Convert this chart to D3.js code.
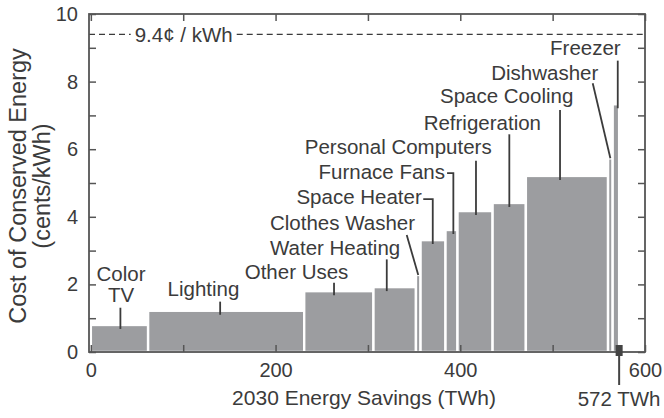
<!DOCTYPE html>
<html><head><meta charset="utf-8">
<script src="https://cdn.jsdelivr.net/npm/d3@7"></script>
<style>
html,body{margin:0;padding:0;background:#fff;}
svg{display:block;font-family:"Liberation Sans",Arial,Helvetica,sans-serif;}
</style></head>
<body>
<svg id="chart" width="664" height="418"></svg>
<script>
// ---------- data ----------
const categories = ["Color TV","Lighting","Other Uses","Water Heating","Clothes Washer","Space Heater",
  "Furnace Fans","Personal Computers","Refrigeration","Space Cooling","Dishwasher","Freezer"];
const savingsTWh = [62,169,75,46,5,27,13,38,36,89,5,7];          // bar widths
const costCents  = [0.80,1.22,1.80,1.92,2.28,3.31,3.61,4.17,4.41,5.21,5.73,7.33]; // bar heights
const xTickValues = [0,100,200,300,400,500,600];
const xTickLabels = ["0","","200","","400","","600"];
const yTickValues = [0,1,2,3,4,5,6,7,8,9,10];
const yTickLabels = ["0","","2","","4","","6","","8","","10"];
const thresholdCents = 9.4;
const thresholdLabel = "9.4¢ / kWh";
const totalTWh = 572;
const totalLabel = "572 TWh";
const xTitle = "2030 Energy Savings (TWh)";
const yTitle = ["Cost of Conserved Energy","(cents/kWh)"];
const labelLines = [["Color","TV"],["Lighting"],["Other Uses"],["Water Heating"],["Clothes Washer"],["Space Heater"],
  ["Furnace Fans"],["Personal Computers"],["Refrigeration"],["Space Cooling"],["Dishwasher"],["Freezer"]];

(function(){
const svg = d3.select("#chart");
const L = 89, R = 645, T = 14, B = 352;
const x = d3.scaleLinear().domain([-2, 600]).range([L, R]);
const y = d3.scaleLinear().domain([0, 10]).range([B, T]);
const ink = "#3b3b3b", axisCol = "#555", barCol = "#9c9da0";
const fs = 20.5, fsTick = 20, fsX = 21, fsY = 23.5;

let cum = 0;
const bars = categories.map((c,i)=>{ const b={name:c,x0:cum,x1:cum+savingsTWh[i],v:costCents[i]}; cum+=savingsTWh[i]; return b;});

svg.append("g").selectAll("rect").data(bars).join("rect")
  .attr("x", d=>x(d.x0)).attr("width", d=>x(d.x1)-x(d.x0))
  .attr("y", d=>y(d.v)).attr("height", d=>y(0)-y(d.v))
  .attr("fill", barCol).attr("stroke","#fff").attr("stroke-width",2.4);

const thrText = svg.append("text").attr("x", x(47.5)).attr("y", y(thresholdCents)+7.5)
  .attr("font-size",fs).attr("fill",ink).text(thresholdLabel);
const bb = thrText.node().getBBox();
[[L, bb.x-4],[bb.x+bb.width+4, R]].forEach(([a,b])=>{
  svg.append("line").attr("x1",a).attr("x2",b).attr("y1",y(thresholdCents)).attr("y2",y(thresholdCents))
    .attr("stroke",ink).attr("stroke-width",1.2).attr("stroke-dasharray","6,4");
});

const tickLen = 7;
const axB = d3.axisBottom(x).tickValues(xTickValues).tickSizeInner(-tickLen).tickSizeOuter(0).tickFormat((d,i)=>xTickLabels[i]).tickPadding(11);
const axT = d3.axisTop(x).tickValues(xTickValues).tickSizeInner(-tickLen).tickSizeOuter(0).tickFormat("");
const axL = d3.axisLeft(y).tickValues(yTickValues).tickSizeInner(-tickLen).tickSizeOuter(0).tickFormat((d,i)=>yTickLabels[i]).tickPadding(11);
const axR = d3.axisRight(y).tickValues(yTickValues).tickSizeInner(-tickLen).tickSizeOuter(0).tickFormat("");
function style(g){
  g.selectAll(".domain").remove();
  g.selectAll(".tick line").attr("stroke",axisCol).attr("stroke-width",1.5);
  g.selectAll(".tick text").attr("font-size",fsTick).attr("fill",ink).attr("font-family","Liberation Sans, Arial, sans-serif");
}
svg.append("g").attr("transform",`translate(0,${B})`).call(axB).call(style);
svg.append("g").attr("transform",`translate(0,${T})`).call(axT).call(style);
svg.append("g").attr("transform",`translate(${L},0)`).call(axL).call(style);
svg.append("g").attr("transform",`translate(${R},0)`).call(axR).call(style);
svg.append("rect").attr("x",L).attr("y",T).attr("width",R-L).attr("height",B-T)
  .attr("fill","none").attr("stroke",axisCol).attr("stroke-width",1.8);

svg.append("rect").attr("x",x(totalTWh)-3.5).attr("y",B-7).attr("width",7).attr("height",11).attr("fill","#444");
svg.append("line").attr("x1",x(totalTWh)).attr("x2",x(totalTWh)).attr("y1",B).attr("y2",B+33)
  .attr("stroke","#444").attr("stroke-width",2);
svg.append("text").attr("x",x(totalTWh)).attr("y",406).attr("text-anchor","middle")
  .attr("font-size",fs).attr("fill",ink).text(totalLabel);

svg.append("text").attr("x",364).attr("y",405).attr("text-anchor","middle").attr("font-size",fsX).attr("fill",ink).text(xTitle);
yTitle.forEach((t,i)=>{
  svg.append("text").attr("transform",`translate(${26+i*24},${186}) rotate(-90)`).attr("text-anchor","middle")
    .attr("font-size",fsY).attr("fill",ink).text(t);
});

const ann = [
  {anchor:"middle", tx:32.7, ty:2.10, leader:[[32,1.31]]},
  {anchor:"middle", tx:122,  ty:1.66, leader:[[140,1.49]]},
  {anchor:"middle", tx:222.7,ty:2.16, leader:[[263.3,2.05]]},
  {anchor:"end",    tx:335,  ty:2.87, leader:[[320.4,2.74]]},
  {anchor:"end",    tx:351,  ty:3.61, leader:[[342,3.46]], endX:354.5},
  {anchor:"end",    tx:358.3,ty:4.37, leader:[[359.9,4.52],[370.2,4.52]]},
  {anchor:"end",    tx:383.5,ty:5.11, leader:[[385.7,5.29],[392.5,5.29]]},
  {anchor:"end",    tx:434,  ty:5.86, leader:[[417,5.66]]},
  {anchor:"end",    tx:487.4,ty:6.57, leader:[[453.1,6.44]]},
  {anchor:"end",    tx:522.4,ty:7.36, leader:[[508,7.16]]},
  {anchor:"end",    tx:549.5,ty:8.05, leader:[[543.4,7.95]], endX:562.5},
  {anchor:"end",    tx:573.7,ty:8.79, leader:[[570.5,8.62]]}
];
const lineH = 21;
ann.forEach((a,i)=>{
  labelLines[i].forEach((t,j)=>{
    svg.append("text").attr("x",x(a.tx)).attr("y",y(a.ty)+j*lineH).attr("text-anchor",a.anchor)
      .attr("font-size",fs).attr("fill",ink).text(t);
  });
  const pts = a.leader.map(p=>[x(p[0]),y(p[1])]);
  const last = a.leader[a.leader.length-1];
  const ex = a.endX!==undefined ? a.endX : last[0];
  pts.push([x(ex), y(costCents[i]) + (a.endX!==undefined ? 0 : 4)]);
  svg.append("path").attr("d", d3.line()(pts)).attr("fill","none").attr("stroke",ink).attr("stroke-width",1.8);
});
})();
</script>
</body></html>
